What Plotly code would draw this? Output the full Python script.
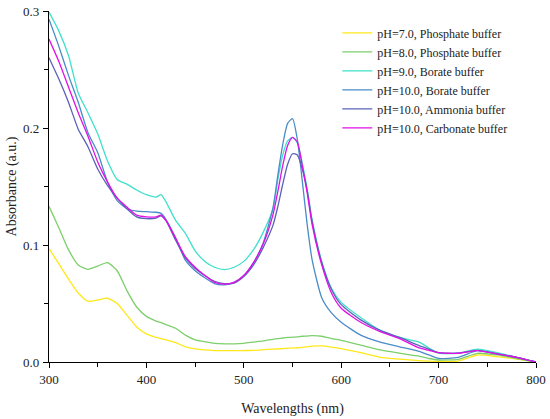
import plotly.graph_objects as go

wavelength = [300, 310, 320, 330, 340, 350, 360, 370, 380, 390, 400, 410, 415, 420, 430, 440,
              450, 460, 470, 480, 490, 500, 510, 520, 530, 535, 540, 545, 550, 555, 560, 565,
              570, 580, 590, 600, 620, 640, 660, 680, 690, 700, 720, 740, 760, 780, 800]

ph7_phosphate = [0.097, 0.084, 0.071, 0.059, 0.052, 0.053, 0.0545, 0.050, 0.040, 0.030, 0.024, 0.021,
                 0.020, 0.019, 0.0165, 0.013, 0.0112, 0.0103, 0.0098, 0.0097, 0.0097, 0.0098, 0.010,
                 0.0105, 0.011, 0.0112, 0.0115, 0.0118, 0.012, 0.0122, 0.0125, 0.013, 0.0135, 0.0137,
                 0.0128, 0.0115, 0.008, 0.004, 0.0025, 0.0012, 0.0008, 0.0005, 0.0008, 0.006, 0.0046,
                 0.0025, 0.0]

ph8_phosphate = [0.133, 0.115, 0.096, 0.083, 0.0792, 0.082, 0.085, 0.078, 0.061, 0.047, 0.039, 0.035,
                 0.0336, 0.032, 0.0288, 0.023, 0.019, 0.0174, 0.016, 0.0155, 0.0155, 0.016, 0.017,
                 0.018, 0.0194, 0.020, 0.0205, 0.021, 0.0212, 0.0215, 0.022, 0.0222, 0.0225, 0.022,
                 0.020, 0.0185, 0.0145, 0.0103, 0.0075, 0.005, 0.003, 0.0017, 0.0023, 0.0074, 0.006,
                 0.003, 0.0]

ph9_borate = [0.299, 0.283, 0.262, 0.230, 0.213, 0.195, 0.172, 0.156, 0.152, 0.147, 0.143, 0.141,
              0.143, 0.137, 0.121, 0.110, 0.095, 0.086, 0.081, 0.079, 0.081, 0.086, 0.096, 0.111,
              0.131, 0.156, 0.177, 0.189, 0.192, 0.187, 0.170, 0.148, 0.122, 0.086, 0.063, 0.051,
              0.038, 0.027, 0.021, 0.017, 0.012, 0.0075, 0.0075, 0.011, 0.008, 0.004, 0.0]

ph10_borate = [0.293, 0.270, 0.245, 0.222, 0.196, 0.179, 0.154, 0.138, 0.131, 0.129, 0.1285, 0.128,
               0.127, 0.122, 0.106, 0.087, 0.078, 0.072, 0.067, 0.066, 0.068, 0.074, 0.085, 0.102,
               0.132, 0.160, 0.186, 0.204, 0.208, 0.190, 0.155, 0.118, 0.088, 0.055, 0.042, 0.034,
               0.023, 0.017, 0.013, 0.009, 0.006, 0.003, 0.004, 0.0097, 0.007, 0.004, 0.0]

ph10_ammonia = [0.260, 0.242, 0.222, 0.199, 0.184, 0.165, 0.151, 0.140, 0.131, 0.124, 0.1225, 0.123,
                0.125, 0.121, 0.104, 0.089, 0.080, 0.074, 0.069, 0.067, 0.0675, 0.073, 0.083, 0.098,
                0.117, 0.133, 0.152, 0.169, 0.178, 0.177, 0.165, 0.147, 0.121, 0.085, 0.062, 0.049,
                0.036, 0.027, 0.021, 0.014, 0.011, 0.008, 0.0075, 0.010, 0.007, 0.004, 0.0]

ph10_carbonate = [0.276, 0.257, 0.235, 0.213, 0.193, 0.171, 0.154, 0.140, 0.1325, 0.1255, 0.124, 0.124,
                  0.1256, 0.121, 0.106, 0.090, 0.081, 0.074, 0.068, 0.0665, 0.068, 0.074, 0.085, 0.101,
                  0.126, 0.146, 0.168, 0.185, 0.192, 0.188, 0.168, 0.145, 0.118, 0.083, 0.059, 0.046,
                  0.034, 0.026, 0.020, 0.012, 0.010, 0.008, 0.0075, 0.0097, 0.007, 0.004, 0.0]

names = ["pH=7.0, Phosphate buffer", "pH=8.0, Phosphate buffer", "pH=9.0, Borate buffer",
         "pH=10.0, Borate buffer", "pH=10.0, Ammonia buffer", "pH=10.0, Carbonate buffer"]
series = [ph7_phosphate, ph8_phosphate, ph9_borate, ph10_borate, ph10_ammonia, ph10_carbonate]
colors = ["#FFE81A", "#7CCF6B", "#40E0CC", "#4A8CC8", "#5A62B8", "#E010E8"]

x_ticks = [300, 400, 500, 600, 700, 800]
y_ticks = [0.0, 0.1, 0.2, 0.3]
y_tick_labels = ["0.0", "0.1", "0.2", "0.3"]

FONT = "Liberation Serif"

fig = go.Figure()
for name, vals, col in zip(names, series, colors):
    fig.add_trace(go.Scatter(x=wavelength, y=vals, mode="lines", name=name,
                             line=dict(color=col, width=1.3, shape="spline", smoothing=0.6)))

fig.update_layout(
    width=550, height=419,
    margin=dict(l=49, r=14, t=11, b=57),
    paper_bgcolor="white", plot_bgcolor="white",
    font=dict(family=FONT, size=13, color="#222"),
    showlegend=True,
    legend=dict(x=0.592, y=0.979, xanchor="left", yanchor="top",
                bgcolor="rgba(0,0,0,0)", font=dict(family=FONT, size=12, color="#222"),
                tracegroupgap=0, itemwidth=30),
)
fig.update_xaxes(
    range=[300, 800], tickvals=x_ticks, showgrid=False, zeroline=False, automargin=False,
    showline=True, linecolor="black", linewidth=1.3,
    ticks="outside", ticklen=5, tickwidth=1.2, tickcolor="black",
    minor=dict(ticks="outside", ticklen=4, tickwidth=1.2, tickcolor="black", dtick=50, showgrid=False),
    title=dict(text="Wavelengths (nm)", font=dict(family=FONT, size=14), standoff=17),
    tickfont=dict(family=FONT, size=13),
)
fig.update_yaxes(
    range=[0, 0.3], tickvals=y_ticks, ticktext=y_tick_labels, showgrid=False, zeroline=False,
    automargin=False,
    showline=True, linecolor="black", linewidth=1.3,
    ticks="outside", ticklen=5, tickwidth=1.2, tickcolor="black", ticklabelstandoff=1,
    minor=dict(ticks="outside", ticklen=4, tickwidth=1.2, tickcolor="black", dtick=0.05, showgrid=False),
    title=dict(text="Absorbance (a.u.)", font=dict(family=FONT, size=14), standoff=3),
    tickfont=dict(family=FONT, size=13),
)

fig.write_html("out.html", config={"displayModeBar": False},
               post_script="document.body.style.margin='0';")
